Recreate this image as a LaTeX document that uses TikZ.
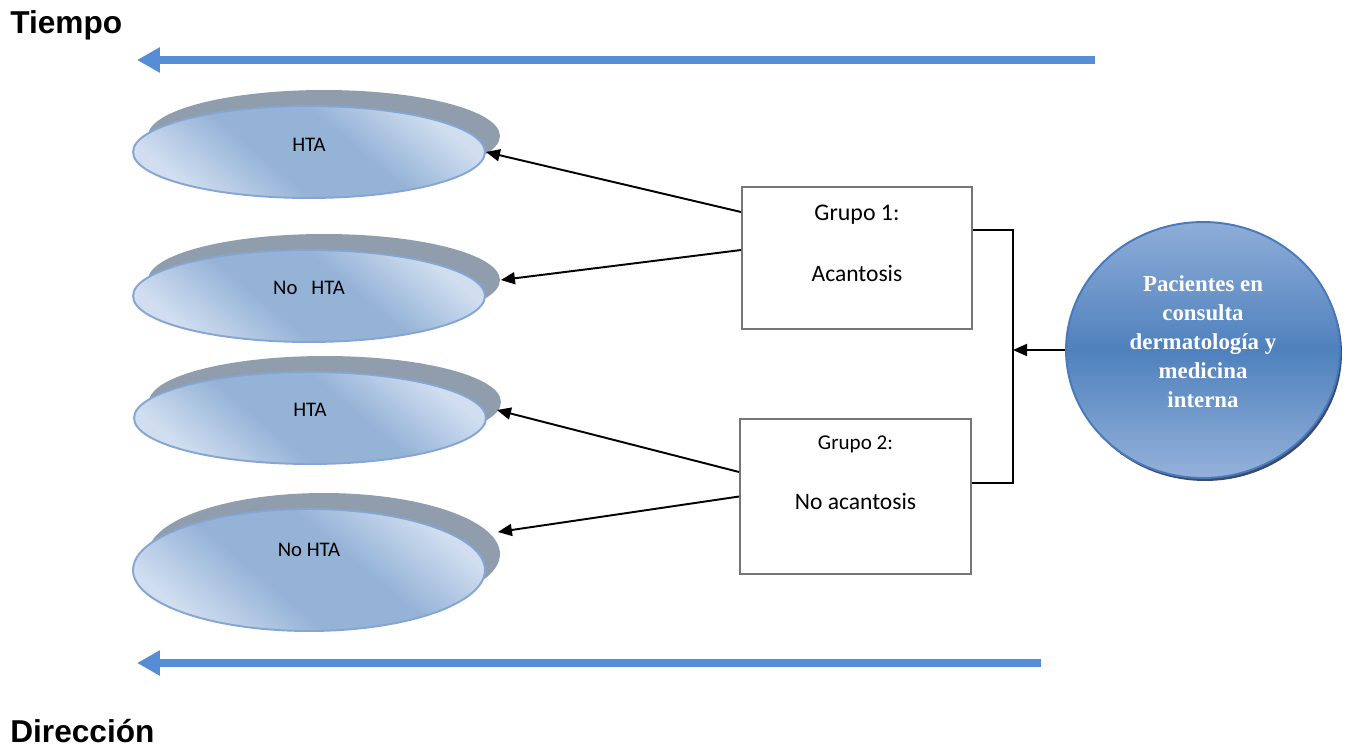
\documentclass[tikz,border=0pt]{standalone}
\usepackage{fontspec}
\setmainfont{Carlito}
\newfontfamily\arialf{Liberation Sans}
\newfontfamily\timesf{Liberation Serif}
\usetikzlibrary{shapes.geometric,arrows.meta,shadows}
\definecolor{azulflecha}{RGB}{85,142,213}
\definecolor{claro}{RGB}{208,222,240}
\definecolor{medio}{RGB}{149,179,215}
\definecolor{bordeelipse}{RGB}{133,165,210}
\definecolor{sombra}{RGB}{143,157,173}
\definecolor{gris}{RGB}{118,118,118}
\definecolor{pacarriba}{RGB}{143,173,216}
\definecolor{pacmedio}{RGB}{79,129,189}
\definecolor{pacborde}{RGB}{72,121,186}
\definecolor{pacsombra}{RGB}{35,55,95}
\pgfdeclareverticalshading{sombreadoelipse}{100bp}{color(0bp)=(claro); color(25bp)=(claro);
    color(42bp)=(medio); color(58bp)=(medio); color(75bp)=(claro); color(100bp)=(claro)}
\begin{document}
\begin{tikzpicture}[x=0.02cm,y=-0.02cm,>={Triangle[length=0.28cm,width=0.24cm]},
    titulo/.style={anchor=base west,inner sep=0pt,font=\arialf\bfseries\fontsize{18}{20}\selectfont},
    flechaazul/.style={azulflecha,line width=4.5pt,-{Triangle[length=0.46cm,width=0.48cm]}},
    elipse/.style={ellipse,draw=bordeelipse,line width=1.1pt,minimum width=7.04cm,minimum height=1.84cm,
        shading=sombreadoelipse,shading angle=-40,
        general shadow={fill=sombra,shadow xshift=0.3cm,shadow yshift=0.32cm}},
    letraelipse/.style={font=\fontsize{11.8}{14}\selectfont},
    caja/.style={draw=gris,line width=1.1pt,fill=white,minimum width=4.6cm,minimum height=2.84cm},
    linea/.style={line width=1.1pt}]
    \useasboundingbox (0,0) rectangle (1346,754);
    \node[titulo] (tiempo) at (10,33) {Tiempo};
    \node[titulo] (direccion) at (10,742) {Dirección};
    \draw[flechaazul] (1095,60) -- (137,60);
    \draw[flechaazul] (1041,663) -- (137,663);
    \node[elipse,label={[letraelipse,yshift=0.14cm]center:HTA}] (hta1) at (309,152) {};
    \node[elipse,label={[letraelipse,yshift=0.16cm]center:No\ \ \ HTA}] (nohta2) at (309,296) {};
    \node[elipse,label={[letraelipse,yshift=0.16cm]center:HTA}] (hta3) at (310,418) {};
    \node[elipse,minimum height=2.44cm,label={[letraelipse,yshift=0.4cm]center:No HTA}] (nohta4) at (309,570) {};
    \node[caja,label={[yshift=0.86cm,font=\fontsize{13.6}{15}\selectfont]center:{Grupo 1:}},
        label={[yshift=-0.3cm,font=\fontsize{13.4}{15}\selectfont]center:Acantosis}] (g1) at (857,258) {};
    \node[caja,minimum width=4.62cm,minimum height=3.1cm,
        label={[yshift=1.05cm,font=\fontsize{12}{14}\selectfont]center:{Grupo 2:}},
        label={[yshift=-0.09cm,font=\fontsize{13.4}{15}\selectfont]center:No acantosis}] (g2) at (855.5,496.5) {};
    \node[ellipse,draw=pacborde,line width=1.1pt,minimum width=5.48cm,minimum height=5.12cm,
        top color=pacarriba,bottom color=pacarriba!95!white,middle color=pacmedio,
        drop shadow={fill=pacsombra,shadow xshift=0.04cm,shadow yshift=-0.06cm,opacity=0.9},
        label={[yshift=0.16cm,align=center,text=white,font=\timesf\bfseries\fontsize{13}{16.5}\selectfont]center:Pacientes en\\consulta\\dermatología y\\medicina\\interna}] (pac) at (1203,350) {};
    \coordinate (j) at (1013,350);
    \draw[->,linea] ([yshift=0.92cm]g1.west) -- (hta1.east);
    \draw[->,linea] ([yshift=0.16cm]g1.west) -- ([xshift=0.3cm,yshift=0.32cm]nohta2.east);
    \draw[->,linea] ([yshift=0.49cm]g2.west) -- ([xshift=0.2cm,yshift=0.16cm]hta3.east);
    \draw[->,linea] (g2.west) -- ([xshift=0.24cm,yshift=0.76cm]nohta4.east);
    \draw[linea] ([yshift=0.56cm]g1.east) -| (j) |- ([yshift=0.27cm]g2.east);
    \draw[->,linea] (pac.west) -- (j);
\end{tikzpicture}
\end{document}
